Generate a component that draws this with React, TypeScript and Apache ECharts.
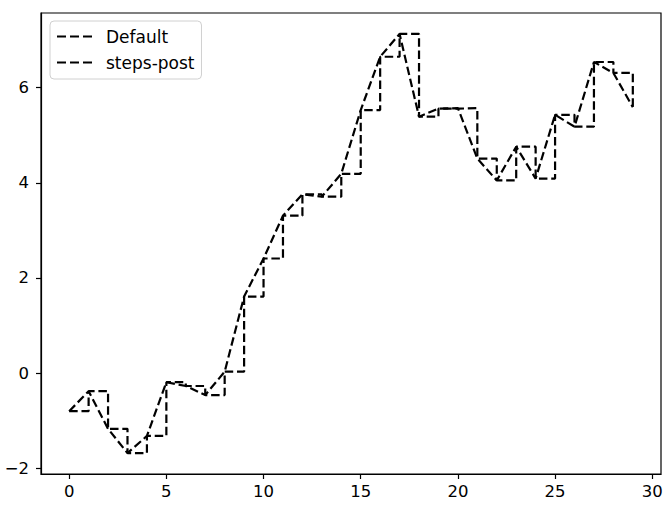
import React, { useEffect, useRef } from "react";
import * as echarts from "echarts";

const xs: number[] = Array.from({ length: 30 }, (_, i) => i);
const ys: number[] = [
  -0.8, -0.38, -1.17, -1.68, -1.32, -0.19, -0.27, -0.46, 0.03, 1.61,
  2.41, 3.31, 3.76, 3.71, 4.19, 5.53, 6.65, 7.13, 5.39, 5.56,
  5.57, 4.51, 4.05, 4.76, 4.09, 5.43, 5.18, 6.54, 6.31, 5.59,
];
const seriesNames: string[] = ["Default", "steps-post"];
const xTicks: number[] = [0, 5, 10, 15, 20, 25, 30];
const yTicks: number[] = [-2, 0, 2, 4, 6];

const FONT = "DejaVu Sans";
const FS = 16.5;
const dashIcon = "path://M0,0h9v2.2h-9z M13,0h9v2.2h-9z M26,0h9v2.2h-9z";

export default function App() {
  const ref = useRef<HTMLDivElement>(null);
  useEffect(() => {
    if (!ref.current) return;
    const chart = echarts.init(ref.current, null, { renderer: "svg" });
    const pts = xs.map((x, i) => [x, ys[i]]);
    const lineStyle = { color: "#000", width: 2.2, type: [8.5, 3.8] as any };
    chart.setOption({
      animation: false,
      backgroundColor: "#fff",
      grid: {
        left: 41,
        top: 13,
        width: 620,
        height: 461,
        show: true,
        borderColor: "#000",
        borderWidth: 1.2,
        backgroundColor: "transparent",
      },
      legend: {
        left: 50,
        top: 21,
        orient: "vertical",
        padding: [6, 7, 7, 7],
        itemGap: 7,
        itemWidth: 35,
        itemHeight: 2.2,
        borderColor: "#d0d0d0",
        borderWidth: 1,
        borderRadius: 4,
        backgroundColor: "rgba(255,255,255,0.8)",
        data: seriesNames.map((n) => ({ name: n, icon: dashIcon, itemStyle: { color: "#000" } })),
        textStyle: { fontFamily: FONT, fontSize: 17, color: "#000", lineHeight: 19, padding: [0, 0, 0, 9] },
      },
      xAxis: {
        type: "value",
        min: -1.45,
        max: 30.45,
        splitLine: { show: false },
        axisLine: { show: true, onZero: false, lineStyle: { color: "#000", width: 1.2 } },
        axisTick: { show: true, length: 5, customValues: xTicks, lineStyle: { color: "#000", width: 1.2 } },
        axisLabel: {
          customValues: xTicks,
          fontFamily: FONT,
          fontSize: FS,
          color: "#000",
          margin: 9,
        },
      },
      yAxis: {
        type: "value",
        min: -2.12,
        max: 7.57,
        splitLine: { show: false },
        axisLine: { show: true, onZero: false, lineStyle: { color: "#000", width: 1.2 } },
        axisTick: { show: true, length: 5, customValues: yTicks, lineStyle: { color: "#000", width: 1.2 } },
        axisLabel: {
          customValues: yTicks,
          fontFamily: FONT,
          fontSize: FS,
          color: "#000",
          margin: 12,
          formatter: (v: number) => (v < 0 ? "\u2212" + Math.abs(v) : String(v)),
        },
      },
      series: [
        {
          name: seriesNames[0],
          type: "line",
          data: pts,
          showSymbol: false,
          symbol: "none",
          lineStyle,
          itemStyle: { color: "#000" },
        },
        {
          name: seriesNames[1],
          type: "line",
          step: "end",
          data: pts,
          showSymbol: false,
          symbol: "none",
          lineStyle,
          itemStyle: { color: "#000" },
        },
      ],
    });
    return () => chart.dispose();
  }, []);
  return <div ref={ref} style={{ width: 671, height: 511, position: "absolute", left: 0, top: 0 }} />;
}
